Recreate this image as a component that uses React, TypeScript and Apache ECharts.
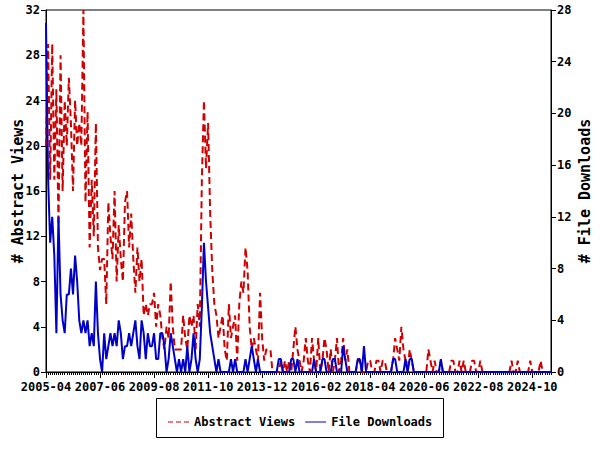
import React, { useEffect, useRef } from "react";
import * as echarts from "echarts";

const START_YEAR = 2005;
const START_MONTH = 4;

// Abstract views per month (left axis)
const abstractViews = [
  20, 29, 17, 29, 17, 25, 13, 28, 16, 24, 20, 26, 22, 16, 24, 20, 22, 20, 32, 15,
  23, 11, 17, 12, 22, 11, 9, 10, 10, 6, 15, 12, 10, 16, 8, 13, 10, 8, 15, 16,
  11, 14, 10, 7, 11, 8, 10, 5, 6, 5, 6, 6, 7, 4, 6, 5, 3, 2, 4, 3,
  8, 4, 2, 2, 2, 2, 5, 3, 2, 5, 4, 5, 2, 6, 4, 17, 24, 18, 22, 14,
  9, 6, 5, 3, 4, 5, 2, 1, 6, 3, 4, 5, 1, 6, 8, 7, 11, 9, 4, 2,
  3, 2, 1, 7, 3, 1, 2, 2, 2, 0, 0, 0, 0, 1, 0, 1, 0, 1, 0, 2,
  4, 2, 1, 0, 1, 3, 1, 0, 3, 1, 0, 3, 0, 1, 3, 2, 0, 2, 0, 1,
  3, 0, 1, 3, 1, 2, 0, 0, 0, 0, 1, 1, 0, 0, 0, 1, 1, 0, 0, 1,
  1, 0, 1, 1, 0, 0, 0, 1, 3, 2, 1, 4, 2, 1, 0, 2, 1, 0, 0, 0,
  0, 0, 0, 0, 2, 1, 0, 1, 0, 0, 1, 0, 0, 0, 0, 1, 1, 0, 0, 1,
  0, 1, 0, 0, 0, 1, 1, 0, 0, 1, 0, 0, 0, 0, 0, 0, 0, 0, 0, 0,
  0, 0, 0, 0, 1, 0, 0, 1, 0, 0, 0, 0, 0, 1, 0, 0, 0, 0, 1, 0,
  0, 0, 0, 0,
];

// File downloads per month (right axis)
const fileDownloads = [
  27, 15, 10, 12, 9, 3, 12, 6, 4, 3, 6, 6, 8, 6, 9, 7, 4, 3, 4, 3,
  4, 2, 3, 2, 7, 3, 1, 0, 3, 1, 2, 3, 2, 3, 2, 4, 3, 1, 2, 2,
  3, 2, 3, 4, 2, 1, 4, 3, 1, 3, 2, 2, 3, 1, 1, 3, 3, 2, 0, 1,
  3, 2, 1, 0, 1, 0, 1, 0, 2, 0, 1, 3, 1, 0, 1, 5, 10, 7, 5, 3,
  2, 1, 0, 1, 0, 0, 0, 0, 0, 1, 0, 1, 0, 0, 0, 0, 1, 0, 1, 2,
  1, 0, 1, 0, 0, 0, 0, 0, 0, 0, 0, 0, 1, 1, 0, 0, 0, 0, 1, 1,
  0, 1, 0, 0, 0, 0, 0, 0, 0, 1, 0, 0, 0, 1, 1, 0, 0, 0, 1, 1,
  0, 0, 0, 2, 1, 0, 0, 0, 0, 0, 1, 1, 0, 2, 0, 0, 0, 0, 0, 0,
  0, 0, 0, 0, 0, 0, 0, 1, 1, 0, 0, 0, 0, 1, 0, 1, 1, 0, 0, 0,
  0, 0, 0, 0, 0, 0, 0, 0, 0, 0, 1, 0, 0, 0, 0, 0, 0, 0, 0, 0,
  0, 0, 0, 0, 0, 0, 0, 0, 0, 0, 0, 0, 0, 0, 0, 0, 0, 0, 0, 0,
  0, 0, 0, 0, 0, 0, 0, 0, 0, 0, 0, 0, 0, 0, 0, 0, 0, 0, 0, 0,
  0, 0, 0, 0,
];

const leftTicks = { min: 0, max: 32, interval: 4 };
const rightTicks = { min: 0, max: 28, interval: 4 };
const LABEL_EVERY = 26;

function monthLabels(n: number): string[] {
  const out: string[] = [];
  for (let i = 0; i < n; i++) {
    const m0 = START_MONTH - 1 + i;
    const y = START_YEAR + Math.floor(m0 / 12);
    const m = (m0 % 12) + 1;
    out.push(`${y}-${m < 10 ? "0" + m : m}`);
  }
  return out;
}

const FONT = "'DejaVu Sans Mono', 'Liberation Mono', monospace";
const RED = "#d00000";
const BLUE = "#0000c8";

export default function App() {
  const ref = useRef<HTMLDivElement>(null);
  useEffect(() => {
    if (!ref.current) return;
    const chart = echarts.init(ref.current, undefined, { renderer: "svg" });
    const months = monthLabels(abstractViews.length);
    const txt = { fontFamily: FONT, fontWeight: "bold" as const, fontSize: 12, color: "#000" };
    chart.setOption({
      animation: false,
      backgroundColor: "#fff",
      grid: {
        left: 46,
        right: 49,
        top: 10,
        bottom: 78,
        show: true,
        borderColor: "#000",
        borderWidth: 1,
        containLabel: false,
        outerBoundsMode: "none",
      },
      xAxis: [
        {
          type: "category",
          data: months,
          boundaryGap: false,
          axisLine: { show: true, lineStyle: { color: "#000", width: 1 } },
          axisTick: { show: true, interval: 0, length: 3, lineStyle: { color: "#000" } },
          axisLabel: { ...txt, interval: LABEL_EVERY - 1, margin: 9 },
          splitLine: { show: false },
        },
        {
          type: "category",
          data: months,
          boundaryGap: false,
          position: "bottom",
          axisLine: { show: false },
          axisTick: { show: true, interval: LABEL_EVERY - 1, length: 6, lineStyle: { color: "#000" } },
          axisLabel: { show: false },
          splitLine: { show: false },
        },
      ],
      yAxis: [
        {
          type: "value",
          position: "left",
          ...leftTicks,
          name: "# Abstract Views",
          nameLocation: "middle",
          nameGap: 21,
          nameMoveOverlap: false,
          nameTextStyle: { fontFamily: FONT, fontWeight: "bold", fontSize: 15, color: "#000" },
          axisLine: { show: true, lineStyle: { color: "#000" } },
          axisTick: { show: true, length: 5, lineStyle: { color: "#000" } },
          axisLabel: { ...txt, margin: 6 },
          splitLine: { show: false },
        },
        {
          type: "value",
          position: "right",
          ...rightTicks,
          name: "# File Downloads",
          nameLocation: "middle",
          nameGap: 26,
          nameRotate: 90,
          nameMoveOverlap: false,
          nameTextStyle: { fontFamily: FONT, fontWeight: "bold", fontSize: 15, color: "#000" },
          axisLine: { show: true, lineStyle: { color: "#000" } },
          axisTick: { show: true, length: 5, lineStyle: { color: "#000" } },
          axisLabel: { ...txt, margin: 6 },
          splitLine: { show: false },
        },
      ],
      legend: {
        left: 163,
        top: 411,
        itemWidth: 21,
        itemHeight: 2,
        itemGap: 10,
        textStyle: { fontFamily: FONT, fontWeight: "bold", fontSize: 12, color: "#000" },
        data: [
          {
            name: "Abstract Views",
            icon: "path://M0,0h5v1h-5zM8,0h5v1h-5zM16,0h5v1h-5z",
            itemStyle: { color: RED },
          },
          {
            name: "File Downloads",
            icon: "path://M0,0h21v1h-21z",
            itemStyle: { color: BLUE },
          },
        ],
      },
      graphic: [
        {
          type: "rect",
          shape: { x: 156.5, y: 398.5, width: 287, height: 39 },
          style: { fill: "none", stroke: "#000", lineWidth: 1 },
          silent: true,
        },
      ],
      series: [
        {
          name: "Abstract Views",
          type: "line",
          xAxisIndex: 0,
          yAxisIndex: 0,
          data: abstractViews,
          showSymbol: false,
          symbol: "none",
          color: RED,
          lineStyle: { color: RED, width: 2, type: [7, 4] },
          z: 2,
        },
        {
          name: "File Downloads",
          type: "line",
          xAxisIndex: 0,
          yAxisIndex: 1,
          data: fileDownloads,
          showSymbol: false,
          symbol: "none",
          color: BLUE,
          lineStyle: { color: BLUE, width: 2 },
          z: 3,
        },
      ],
    });
    return () => chart.dispose();
  }, []);
  return (
    <div
      ref={ref}
      style={{ position: "fixed", left: 0, top: 0, width: 600, height: 450, background: "#fff" }}
    />
  );
}
